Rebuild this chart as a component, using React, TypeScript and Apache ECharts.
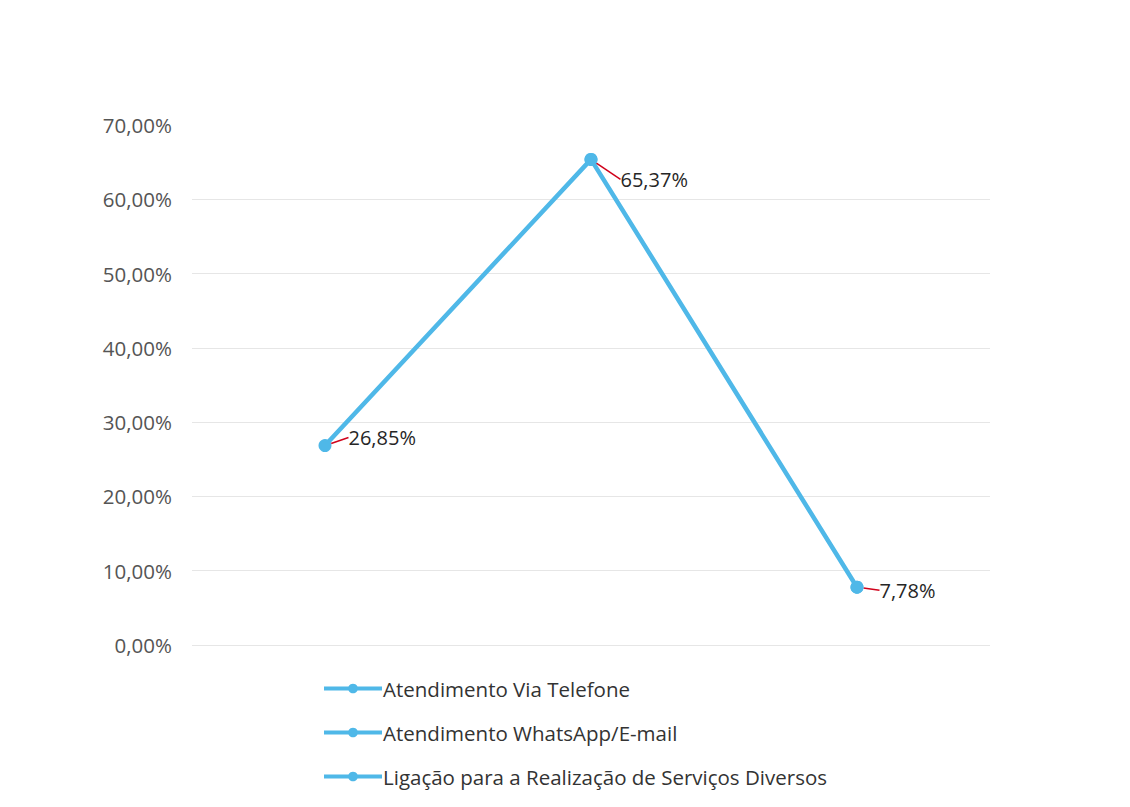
import React, { useEffect, useRef } from "react";
import * as echarts from "echarts";

const categories = ["Atendimento Via Telefone", "Atendimento WhatsApp/E-mail", "Ligação para a Realização de Serviços Diversos"];
const values = [26.85, 65.37, 7.78];
const seriesNames = ["Atendimento Via Telefone", "Atendimento WhatsApp/E-mail", "Ligação para a Realização de Serviços Diversos"];
const yTicks = [0, 10, 20, 30, 40, 50, 60, 70];

const fmt = (v: number) => v.toFixed(2).replace(".", ",") + "%";
const LINE = "#4fb8e8";
const FONT = "Open Sans";

export default function App() {
  const ref = useRef<HTMLDivElement>(null);
  useEffect(() => {
    if (!ref.current) return;
    const chart = echarts.init(ref.current, null, { renderer: "svg" });
    const offsets = [
      { dx: 4, dy: -8 },
      { dx: 10, dy: 20 },
      { dx: 3, dy: 3 },
    ];
    const labelCfg = {
      show: true,
      position: "right" as const,
      distance: 6,
      padding: [0, 0, 0, 7],
      formatter: (p: any) => fmt(p.value),
      fontFamily: FONT,
      fontSize: 20,
      color: "#262626",
    };
    const series: any[] = seriesNames.map((name, si) => {
      if (si === 0) {
        return {
          name,
          type: "line",
          data: values,
          symbol: "circle",
          symbolSize: 13,
          itemStyle: { color: LINE },
          lineStyle: { color: LINE, width: 4.5 },
          label: labelCfg,
          labelLine: { show: true, lineStyle: { color: "#d0021b", width: 1.5 } },
          labelLayout: (p: any) => offsets[p.dataIndex] || {},
          z: 2,
        };
      }
      return {
        name,
        type: "line",
        data: values.map((v, i) => (i === si ? v : null)),
        symbol: "circle",
        symbolSize: 13,
        itemStyle: { color: LINE },
        lineStyle: { color: LINE, width: 4.5 },
        label: { show: false },
        z: 3,
      };
    });
    chart.setOption({
      animation: false,
      backgroundColor: "#ffffff",
      grid: { left: 192, right: 140, top: 125, bottom: 162 },
      legend: {
        orient: "vertical",
        left: 317,
        top: 673,
        itemGap: 23,
        itemWidth: 58,
        itemHeight: 12,
        data: seriesNames,
        lineStyle: { width: 4 },
        textStyle: { fontFamily: FONT, fontSize: 20.5, color: "#333333", padding: [0, 0, 0, -4] },
      },
      xAxis: {
        type: "category",
        data: categories,
        boundaryGap: true,
        axisLine: { show: false },
        axisTick: { show: false },
        axisLabel: { show: false },
      },
      yAxis: {
        type: "value",
        min: 0,
        max: 70,
        interval: 10,
        axisLine: { show: false },
        axisTick: { show: false },
        axisLabel: {
          formatter: (v: number) => fmt(v),
          fontFamily: FONT,
          fontSize: 20.5,
          color: "#555555",
          margin: 20,
        },
        splitLine: {
          lineStyle: {
            color: yTicks.map((t) => (t === 70 ? "rgba(0,0,0,0)" : "#e6e6e6")),
            width: 1,
          },
        },
      },
      series,
    });
    return () => chart.dispose();
  }, []);
  return <div ref={ref} style={{ position: "fixed", left: 0, top: 0, width: 1130, height: 807 }} />;
}
